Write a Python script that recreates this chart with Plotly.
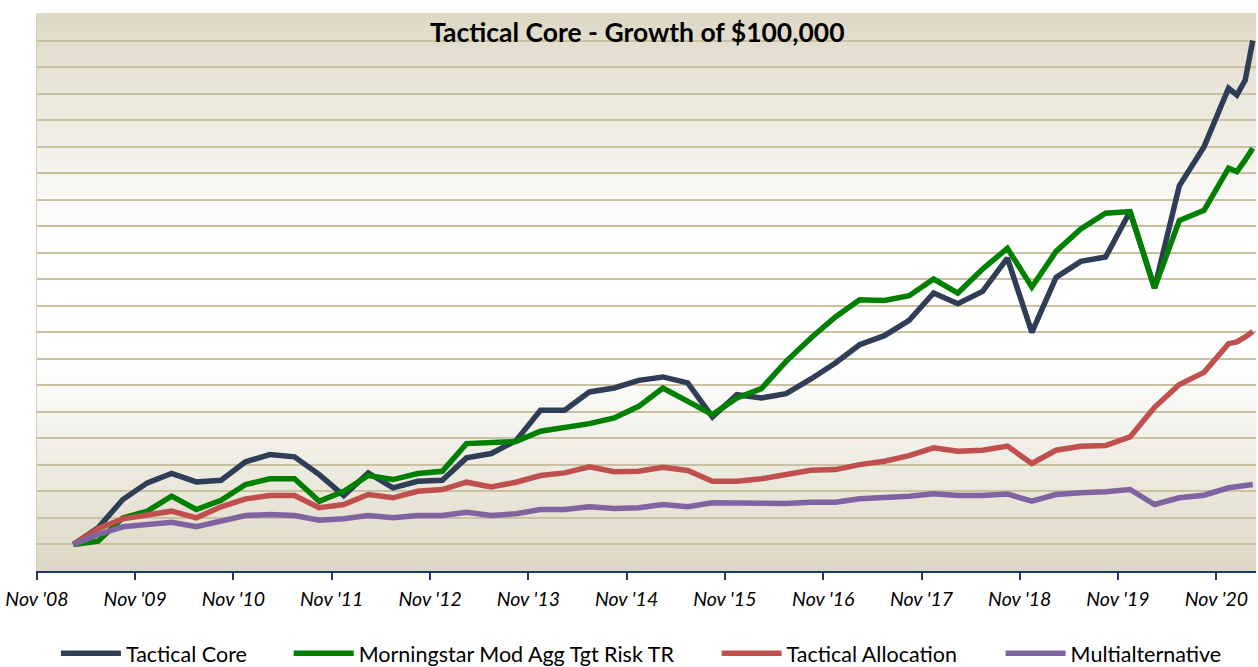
import plotly.graph_objects as go
import pandas as pd

# ---- data ----
months = (
    [f"{y}-{m:02d}" for y in range(2009, 2021) for m in (3, 6, 9, 12)]
    + ["2021-01", "2021-02", "2021-03"]
)

tactical_core = [
    100000, 115700, 142400, 158100, 166900, 159000, 160500, 177900, 184700, 182600,
    165900, 146100, 167500, 153400, 159600, 160500, 181600, 185700, 197900, 226500,
    226500, 243800, 247500, 254700, 257900, 252300, 220200, 241200, 238100, 242200,
    256000, 271100, 288300, 296800, 311200, 337000, 326900, 338500, 370000, 299900,
    351700, 366800, 370900, 413800, 341700, 438000, 475000, 530000, 523700, 537800,
    574900,
]
morningstar = [
    100000, 103100, 125100, 131400, 145500, 133000, 141700, 156500, 161900, 161900,
    140800, 150200, 165000, 161200, 166900, 169000, 195100, 195800, 197000, 206700,
    209900, 213900, 219300, 230200, 247500, 234900, 222400, 238100, 246900, 272600,
    294600, 314400, 330700, 330000, 334500, 350200, 337000, 359600, 379200, 342700,
    376200, 397300, 412300, 413800, 341700, 405400, 415000, 454700, 451500, 462500,
    473500,
]
tactical_allocation = [
    100000, 114800, 124200, 128200, 131400, 125100, 135500, 143000, 146100, 146100,
    134600, 137700, 147100, 144000, 150200, 151800, 158700, 154300, 158700, 165000,
    167500, 173200, 168500, 169000, 172800, 169700, 159600, 159600, 161900, 165900,
    170000, 170600, 175300, 178400, 183800, 191100, 187900, 188800, 192700, 176300,
    188800, 192600, 193200, 201400, 229300, 250700, 262200, 289300, 290900, 295600,
    300800,
]
multialternative = [
    100000, 109400, 116700, 119500, 121000, 116700, 122600, 127300, 128200, 127300,
    122900, 124200, 127300, 125100, 127300, 127300, 130400, 127300, 128900, 133000,
    133000, 135500, 133900, 134600, 137700, 135500, 139300, 139300, 138100, 138600,
    139800, 139800, 143000, 144000, 145500, 147700, 146100, 146100, 147600, 140800,
    147100, 148700, 149600, 151800, 137700, 144000, 146400, 153400, 154300, 154900,
    156500,
]

tick_dates = [f"{y}-11-01" for y in range(2008, 2021)]
tick_labels = ["Nov '08", "Nov '09", "Nov '10", "Nov '11", "Nov '12", "Nov '13", "Nov '14",
               "Nov '15", "Nov '16", "Nov '17", "Nov '18", "Nov '19", "Nov '20"]

series_names = ["Tactical Core", "Morningstar Mod Agg Tgt Risk TR",
                "Tactical Allocation", "Multialternative"]
series_values = [tactical_core, morningstar, tactical_allocation, multialternative]
series_colors = ["#2f3e56", "#008000", "#c0504d", "#8064a2"]

# points sit in the middle of their month slot (Excel "between tick marks")
x = pd.to_datetime(months) + pd.Timedelta(days=15)

legend_ids = ["legend", "legend2", "legend3", "legend4"]
legend_x = [0.0155, 0.2065, 0.5575, 0.7905]

fig = go.Figure()
for name, vals, col, lg in zip(series_names, series_values, series_colors, legend_ids):
    fig.add_trace(go.Scatter(
        x=x, y=vals, mode="lines", name=name, legend=lg,
        line=dict(color=col, width=5.5),
    ))

# vertical background gradient (beige -> white -> beige) built from thin bands
def lerp(c1, c2, t):
    return tuple(round(a + (b - a) * t) for a, b in zip(c1, c2))

beige_bot = (220, 215, 196)
beige_top = (222, 216, 198)
white = (255, 255, 255)
n = 90
shapes = []
for i in range(n):
    f0, f1 = i / n, (i + 1) / n
    fm = (f0 + f1) / 2
    if fm < 0.38:
        c = lerp(beige_bot, white, fm / 0.38)
    elif fm < 0.60:
        c = white
    else:
        c = lerp(white, beige_top, (fm - 0.60) / 0.40)
    shapes.append(dict(
        type="rect", xref="x domain", yref="y domain",
        x0=0, x1=1, y0=f0, y1=f1 + 0.002,
        fillcolor="rgb(%d,%d,%d)" % c, line=dict(width=0), layer="below",
    ))

legend_style = dict(
    orientation="h", y=-0.111, yanchor="top", xanchor="left",
    font=dict(size=21.5, family="Lato", color="black"),
    itemwidth=60, bgcolor="rgba(0,0,0,0)",
)
legends = {lg: dict(legend_style, x=lx) for lg, lx in zip(legend_ids, legend_x)}

fig.update_layout(
    width=1258, height=667,
    margin=dict(l=37, r=2, t=14, b=96, autoexpand=False),
    paper_bgcolor="white",
    plot_bgcolor="white",
    shapes=shapes,
    font=dict(family="Lato", color="black"),
    showlegend=True,
    annotations=[dict(
        text="<b>Tactical Core - Growth of $100,000</b>",
        xref="paper", yref="paper", x=0.493, y=0.967,
        xanchor="center", yanchor="middle", showarrow=False,
        font=dict(size=26.5, family="Lato", color="black"),
    )],
    **legends,
)

fig.update_xaxes(
    type="date",
    range=["2008-11-01", "2021-03-28"],
    tickmode="array", tickvals=tick_dates, ticktext=tick_labels,
    tickfont=dict(size=19.5, family="Lato", style="italic", color="black"),
    ticks="outside", ticklen=7, tickwidth=2, tickcolor="#1f3a6e",
    ticklabelstandoff=3, automargin=False,
    showline=True, linecolor="#1f3a6e", linewidth=2,
    showgrid=False, zeroline=False,
)
fig.update_yaxes(
    range=[75000, 600000], tick0=0, dtick=25000,
    showticklabels=False, ticks="", automargin=False,
    showgrid=True, gridcolor="#c9c1a2", gridwidth=2,
    showline=True, linecolor="#d4ceb6", linewidth=1,
    zeroline=False, mirror=False,
)

fig.write_html(
    "out.html",
    config={"displayModeBar": False},
    post_script="document.body.style.margin='0';",
)
